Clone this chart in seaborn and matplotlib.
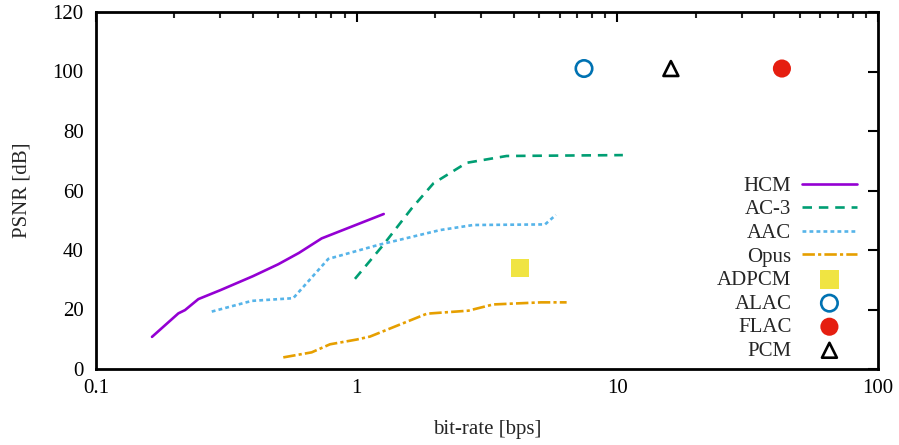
import matplotlib
matplotlib.use("Agg")
import matplotlib.pyplot as plt
import seaborn as sns
import pandas as pd
from matplotlib.ticker import LogLocator, FixedLocator, NullFormatter

# ---- data ----
hcm_x = [0.164, 0.207, 0.2195, 0.247, 0.30, 0.40, 0.50, 0.60, 0.734, 1.27]
hcm_y = [10.8, 18.7, 19.8, 23.5, 26.5, 31.2, 35.2, 39.0, 43.9, 52.1]

ac3_x = [0.985, 1.265, 1.626, 1.97, 2.64, 3.76, 10.5]
ac3_y = [30.3, 41.7, 54.0, 62.4, 69.3, 71.6, 71.9]

aac_x = [0.278, 0.396, 0.571, 0.778, 1.21, 2.09, 2.80, 5.28, 5.81]
aac_y = [19.3, 22.9, 23.8, 37.0, 41.7, 46.7, 48.4, 48.6, 51.8]

opus_x = [0.523, 0.672, 0.79, 1.0, 1.125, 1.86, 2.68, 3.34, 5.1, 6.39]
opus_y = [3.9, 5.6, 8.3, 9.9, 10.9, 18.6, 19.6, 21.7, 22.4, 22.4]

adpcm_x, adpcm_y = [4.23], [34.0]
alac_x, alac_y = [7.45], [101.0]
flac_x, flac_y = [42.8], [101.0]
pcm_x, pcm_y = [16.05], [101.0]

x_ticks = [0.1, 1, 10, 100]
x_ticklabels = ["0.1", "1", "10", "100"]
y_ticks = [0, 20, 40, 60, 80, 100, 120]

sns.set_style("white")
plt.rcParams['font.family'] = ['Liberation Serif', 'DejaVu Serif']
FS = 15
plt.rcParams['font.size'] = FS

fig = plt.figure(figsize=(8.99, 4.45), dpi=100)
ax = fig.add_axes([96/899, 76/445, 782/899, 357/445])

lw = 1.9
sns.lineplot(x=hcm_x, y=hcm_y, ax=ax, color="#9400D3", linewidth=lw, label="HCM", sort=False, estimator=None)
sns.lineplot(x=ac3_x, y=ac3_y, ax=ax, color="#009E73", linewidth=lw, label="AC-3", sort=False, estimator=None)
ax.lines[-1].set_dashes([3.6, 2.6])
sns.lineplot(x=aac_x, y=aac_y, ax=ax, color="#56B4E9", linewidth=lw, label="AAC", sort=False, estimator=None)
ax.lines[-1].set_dashes([1.45, 1.2])
sns.lineplot(x=opus_x, y=opus_y, ax=ax, color="#E69F00", linewidth=lw, label="Opus", sort=False, estimator=None)
ax.lines[-1].set_dashes([4.7, 1.2, 1.2, 1.2])

sns.scatterplot(x=adpcm_x, y=adpcm_y, ax=ax, marker="s", s=180, color="#F0E442", edgecolor="none", label="ADPCM")
sns.scatterplot(x=alac_x, y=alac_y, ax=ax, marker="o", s=140, facecolor="none", edgecolor="#0072B2", linewidth=1.9, label="ALAC")
sns.scatterplot(x=flac_x, y=flac_y, ax=ax, marker="o", s=170, color="#E51E10", edgecolor="none", label="FLAC")
sns.scatterplot(x=pcm_x, y=pcm_y, ax=ax, marker="^", s=115, facecolor="none", edgecolor="black", linewidth=1.9, label="PCM")

ax.set_xscale("log")
ax.set_xlim(0.1, 100)
ax.set_ylim(0, 120)
ax.xaxis.set_major_locator(FixedLocator(x_ticks))
ax.set_xticklabels(x_ticklabels)
ax.xaxis.set_minor_locator(LogLocator(base=10, subs=range(2, 10)))
ax.xaxis.set_minor_formatter(NullFormatter())
ax.set_yticks(y_ticks)

ax.tick_params(axis="both", which="major", direction="in", length=7, width=1.5,
               top=True, right=True, labelsize=FS, colors="black")
ax.tick_params(axis="y", which="major", pad=9)
ax.tick_params(axis="x", which="major", pad=7)
ax.tick_params(axis="both", which="minor", direction="in", length=4, width=1.5,
               top=True, right=True)
for s in ax.spines.values():
    s.set_visible(True)
    s.set_linewidth(2.0)
    s.set_color("black")

ax.set_xlabel("bit-rate [bps]", fontsize=FS, labelpad=16)
ax.set_ylabel("PSNR [dB]", fontsize=FS, labelpad=15)

leg = ax.legend(loc="lower right", bbox_to_anchor=(0.9865, -0.006), frameon=False,
                markerfirst=False, handlelength=2.65, handletextpad=0.5,
                labelspacing=0.19, borderpad=0, fontsize=FS)

fig.savefig("out.png", dpi=100)
